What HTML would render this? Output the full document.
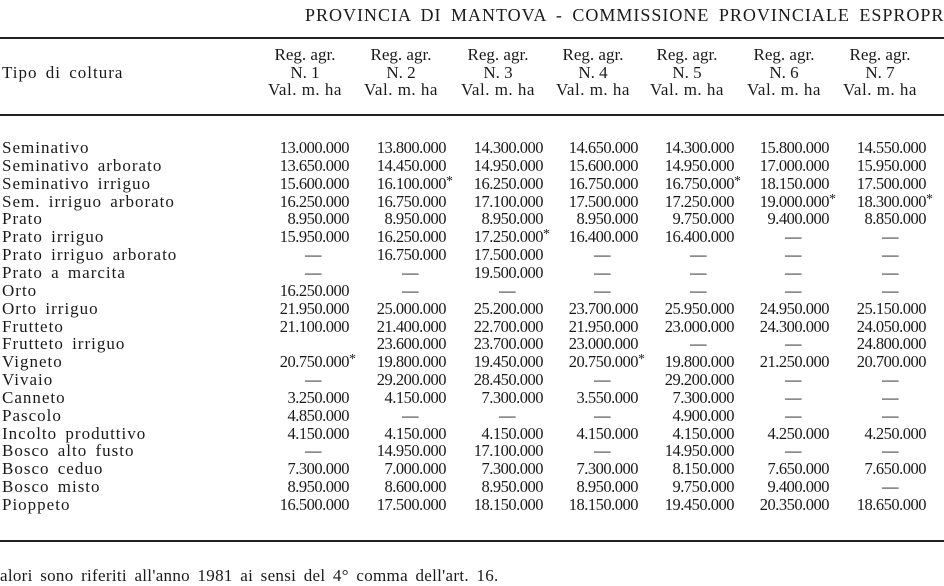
<!DOCTYPE html>
<html><head><meta charset="utf-8"><style>
body{margin:0;width:944px;height:583px;background:#fff;overflow:hidden;position:relative;font-family:"Liberation Serif",serif;color:#1a1a1a;font-size:16.5px}
.a{position:absolute;white-space:nowrap}
.r{position:absolute;left:0;width:944px;height:18px;line-height:18px}
.r span{position:absolute;width:72px;text-align:right;letter-spacing:-0.5px}
.r span.d{text-align:center}
.r span.s::after{content:"*";position:absolute;left:100%;top:-2px;font-size:14px}
.r b{position:absolute;left:2px;font-weight:normal;font-size:17px;letter-spacing:1px;word-spacing:3px}
.h{position:absolute;width:110px;text-align:center;line-height:17.5px;font-size:17px;white-space:nowrap}
.h i{font-style:normal;letter-spacing:0.5px}
.rule{position:absolute;left:0;width:944px;background:#222}
.c1{left:277px}.c2{left:374px}.c3{left:471px}.c4{left:566px}.c5{left:662px}.c6{left:757px}.c7{left:854px}
</style></head><body>
<div class="a" style="left:305px;top:5px;font-size:18px;letter-spacing:1px;word-spacing:4px">PROVINCIA DI MANTOVA - COMMISSIONE PROVINCIALE ESPROPR</div>
<div class="rule" style="top:37px;height:1.5px"></div>
<div class="rule" style="top:114px;height:1.5px"></div>
<div class="rule" style="top:540px;height:1.5px"></div>
<div class="a" style="left:2px;top:63px;font-size:17px;letter-spacing:1px;word-spacing:3px">Tipo di coltura</div>
<div class="h" style="left:250px;top:46px">Reg. agr.<br>N. 1<br><i>Val. m. ha</i></div>
<div class="h" style="left:346px;top:46px">Reg. agr.<br>N. 2<br><i>Val. m. ha</i></div>
<div class="h" style="left:443px;top:46px">Reg. agr.<br>N. 3<br><i>Val. m. ha</i></div>
<div class="h" style="left:538px;top:46px">Reg. agr.<br>N. 4<br><i>Val. m. ha</i></div>
<div class="h" style="left:632px;top:46px">Reg. agr.<br>N. 5<br><i>Val. m. ha</i></div>
<div class="h" style="left:729px;top:46px">Reg. agr.<br>N. 6<br><i>Val. m. ha</i></div>
<div class="h" style="left:825px;top:46px">Reg. agr.<br>N. 7<br><i>Val. m. ha</i></div>

<div class="r" style="top:139px"><b>Seminativo</b><span class="c1">13.000.000</span><span class="c2">13.800.000</span><span class="c3">14.300.000</span><span class="c4">14.650.000</span><span class="c5">14.300.000</span><span class="c6">15.800.000</span><span class="c7">14.550.000</span></div>
<div class="r" style="top:156.85px"><b>Seminativo arborato</b><span class="c1">13.650.000</span><span class="c2">14.450.000</span><span class="c3">14.950.000</span><span class="c4">15.600.000</span><span class="c5">14.950.000</span><span class="c6">17.000.000</span><span class="c7">15.950.000</span></div>
<div class="r" style="top:174.7px"><b>Seminativo irriguo</b><span class="c1">15.600.000</span><span class="c2 s">16.100.000</span><span class="c3">16.250.000</span><span class="c4">16.750.000</span><span class="c5 s">16.750.000</span><span class="c6">18.150.000</span><span class="c7">17.500.000</span></div>
<div class="r" style="top:192.55px"><b>Sem. irriguo arborato</b><span class="c1">16.250.000</span><span class="c2">16.750.000</span><span class="c3">17.100.000</span><span class="c4">17.500.000</span><span class="c5">17.250.000</span><span class="c6 s">19.000.000</span><span class="c7 s">18.300.000</span></div>
<div class="r" style="top:210.4px"><b>Prato</b><span class="c1">8.950.000</span><span class="c2">8.950.000</span><span class="c3">8.950.000</span><span class="c4">8.950.000</span><span class="c5">9.750.000</span><span class="c6">9.400.000</span><span class="c7">8.850.000</span></div>
<div class="r" style="top:228.25px"><b>Prato irriguo</b><span class="c1">15.950.000</span><span class="c2">16.250.000</span><span class="c3 s">17.250.000</span><span class="c4">16.400.000</span><span class="c5">16.400.000</span><span class="c6 d">—</span><span class="c7 d">—</span></div>
<div class="r" style="top:246.1px"><b>Prato irriguo arborato</b><span class="c1 d">—</span><span class="c2">16.750.000</span><span class="c3">17.500.000</span><span class="c4 d">—</span><span class="c5 d">—</span><span class="c6 d">—</span><span class="c7 d">—</span></div>
<div class="r" style="top:263.95px"><b>Prato a marcita</b><span class="c1 d">—</span><span class="c2 d">—</span><span class="c3">19.500.000</span><span class="c4 d">—</span><span class="c5 d">—</span><span class="c6 d">—</span><span class="c7 d">—</span></div>
<div class="r" style="top:281.8px"><b>Orto</b><span class="c1">16.250.000</span><span class="c2 d">—</span><span class="c3 d">—</span><span class="c4 d">—</span><span class="c5 d">—</span><span class="c6 d">—</span><span class="c7 d">—</span></div>
<div class="r" style="top:299.65px"><b>Orto irriguo</b><span class="c1">21.950.000</span><span class="c2">25.000.000</span><span class="c3">25.200.000</span><span class="c4">23.700.000</span><span class="c5">25.950.000</span><span class="c6">24.950.000</span><span class="c7">25.150.000</span></div>
<div class="r" style="top:317.5px"><b>Frutteto</b><span class="c1">21.100.000</span><span class="c2">21.400.000</span><span class="c3">22.700.000</span><span class="c4">21.950.000</span><span class="c5">23.000.000</span><span class="c6">24.300.000</span><span class="c7">24.050.000</span></div>
<div class="r" style="top:335.35px"><b>Frutteto irriguo</b><span class="c2">23.600.000</span><span class="c3">23.700.000</span><span class="c4">23.000.000</span><span class="c5 d">—</span><span class="c6 d">—</span><span class="c7">24.800.000</span></div>
<div class="r" style="top:353.2px"><b>Vigneto</b><span class="c1 s">20.750.000</span><span class="c2">19.800.000</span><span class="c3">19.450.000</span><span class="c4 s">20.750.000</span><span class="c5">19.800.000</span><span class="c6">21.250.000</span><span class="c7">20.700.000</span></div>
<div class="r" style="top:371.05px"><b>Vivaio</b><span class="c1 d">—</span><span class="c2">29.200.000</span><span class="c3">28.450.000</span><span class="c4 d">—</span><span class="c5">29.200.000</span><span class="c6 d">—</span><span class="c7 d">—</span></div>
<div class="r" style="top:388.9px"><b>Canneto</b><span class="c1">3.250.000</span><span class="c2">4.150.000</span><span class="c3">7.300.000</span><span class="c4">3.550.000</span><span class="c5">7.300.000</span><span class="c6 d">—</span><span class="c7 d">—</span></div>
<div class="r" style="top:406.75px"><b>Pascolo</b><span class="c1">4.850.000</span><span class="c2 d">—</span><span class="c3 d">—</span><span class="c4 d">—</span><span class="c5">4.900.000</span><span class="c6 d">—</span><span class="c7 d">—</span></div>
<div class="r" style="top:424.6px"><b>Incolto produttivo</b><span class="c1">4.150.000</span><span class="c2">4.150.000</span><span class="c3">4.150.000</span><span class="c4">4.150.000</span><span class="c5">4.150.000</span><span class="c6">4.250.000</span><span class="c7">4.250.000</span></div>
<div class="r" style="top:442.45px"><b>Bosco alto fusto</b><span class="c1 d">—</span><span class="c2">14.950.000</span><span class="c3">17.100.000</span><span class="c4 d">—</span><span class="c5">14.950.000</span><span class="c6 d">—</span><span class="c7 d">—</span></div>
<div class="r" style="top:460.3px"><b>Bosco ceduo</b><span class="c1">7.300.000</span><span class="c2">7.000.000</span><span class="c3">7.300.000</span><span class="c4">7.300.000</span><span class="c5">8.150.000</span><span class="c6">7.650.000</span><span class="c7">7.650.000</span></div>
<div class="r" style="top:478.15px"><b>Bosco misto</b><span class="c1">8.950.000</span><span class="c2">8.600.000</span><span class="c3">8.950.000</span><span class="c4">8.950.000</span><span class="c5">9.750.000</span><span class="c6">9.400.000</span><span class="c7 d">—</span></div>
<div class="r" style="top:496px"><b>Pioppeto</b><span class="c1">16.500.000</span><span class="c2">17.500.000</span><span class="c3">18.150.000</span><span class="c4">18.150.000</span><span class="c5">19.450.000</span><span class="c6">20.350.000</span><span class="c7">18.650.000</span></div>

<div class="a" style="left:0;top:566px;font-size:17px;letter-spacing:0.3px;word-spacing:3px">alori sono riferiti all'anno 1981 ai sensi del 4° comma dell'art. 16.</div>
</body></html>
